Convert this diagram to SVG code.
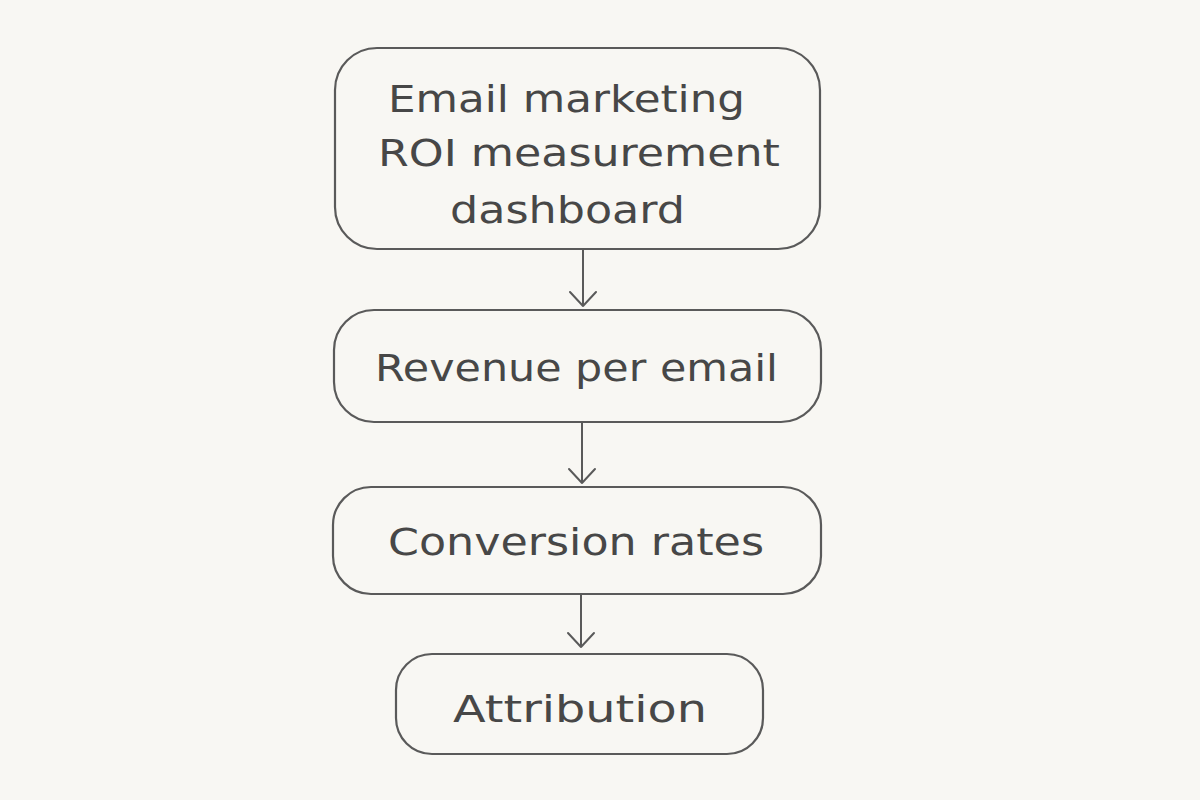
<svg xmlns="http://www.w3.org/2000/svg" width="1200" height="800" viewBox="0 0 1200 800">
<defs>
<style>
.box{fill:none;stroke:#5a5a5a;stroke-width:2.2}
.lbl{font-family:"DejaVu Sans","Liberation Sans",sans-serif;font-size:38px;fill:#474747}
.edge{fill:none;stroke:#5a5a5a;stroke-width:2;stroke-linecap:round;stroke-linejoin:round}
</style>
</defs>
<rect width="1200" height="800" fill="#f8f7f3"/>
<g id="node-roi">
<rect class="box" x="335" y="48" width="485" height="201" rx="42"/>
<text class="lbl" x="388" y="112" textLength="357" lengthAdjust="spacingAndGlyphs">Email marketing</text>
<text class="lbl" x="378" y="166" textLength="402" lengthAdjust="spacingAndGlyphs">ROI measurement</text>
<text class="lbl" x="450" y="223" textLength="235" lengthAdjust="spacingAndGlyphs">dashboard</text>
</g>
<g id="node-revenue">
<rect class="box" x="334" y="310" width="487" height="112" rx="40"/>
<text class="lbl" x="375" y="381" textLength="403" lengthAdjust="spacingAndGlyphs">Revenue per email</text>
</g>
<g id="node-conversion">
<rect class="box" x="333" y="487" width="488" height="107" rx="38"/>
<text class="lbl" x="388" y="555" textLength="376" lengthAdjust="spacingAndGlyphs">Conversion rates</text>
</g>
<g id="node-attribution">
<rect class="box" x="396" y="654" width="367" height="100" rx="36"/>
<text class="lbl" x="453" y="722" textLength="254" lengthAdjust="spacingAndGlyphs">Attribution</text>
</g>
<g id="connectors">
<path class="edge" d="M583 249 L583 306 M570 292 L583 306 L596 292"/>
<path class="edge" d="M582 422 L582 483 M569 469 L582 483 L595 469"/>
<path class="edge" d="M581 594 L581 647 M568 633 L581 647 L594 633"/>
</g>
</svg>
